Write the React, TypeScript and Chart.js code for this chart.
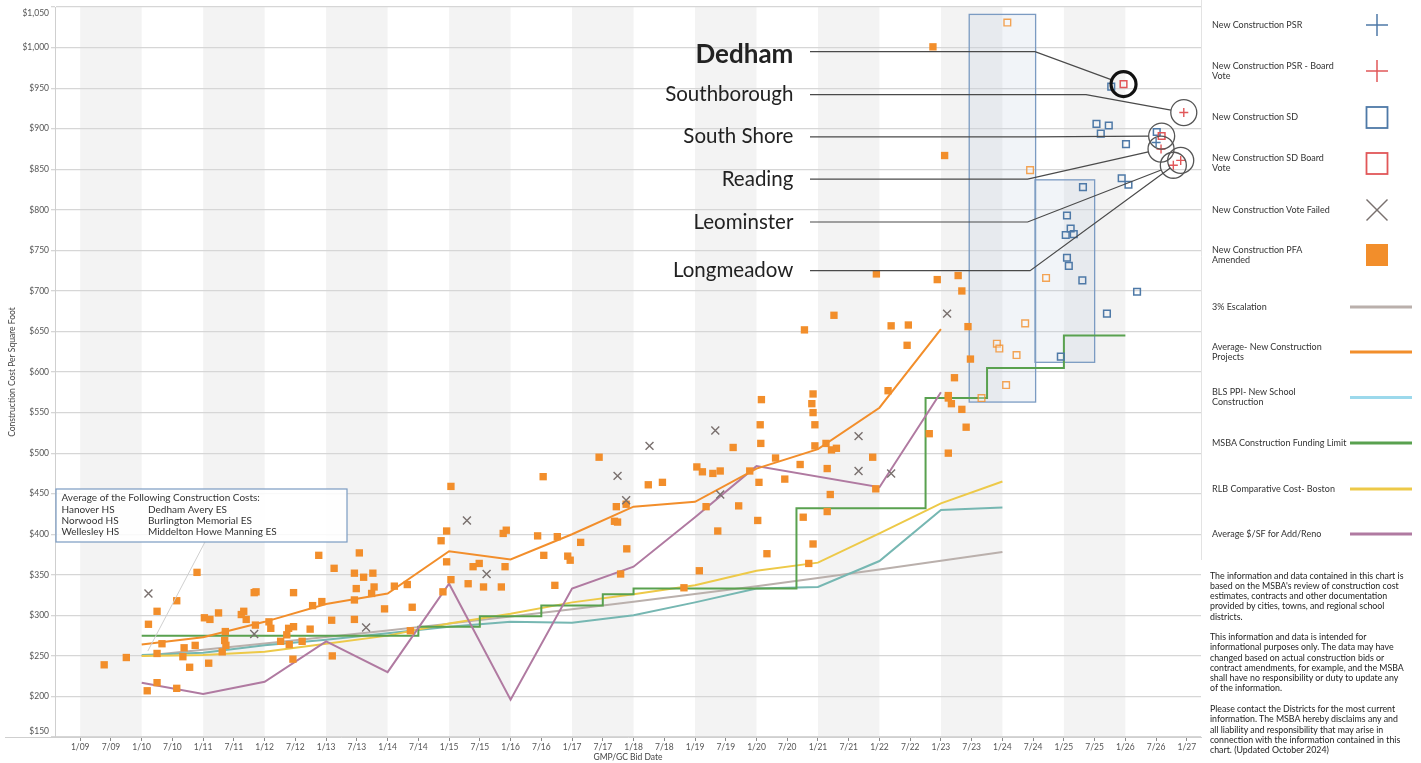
import React, { useEffect, useRef } from 'react';
import { Chart, registerables } from 'chart.js';

Chart.register(...registerables);

const W = 1421;
const H = 763;
const FONT = 'Lato, "Noto Sans", sans-serif';

const ORANGE = '#f28e2b';
const BLUE = '#4e79a7';
const RED = '#e15759';
const GRAY_X = '#79706e';
const GRAY_LINE = '#bab0ac';
const TEAL = '#76b7b2';
const TEAL_LEGEND = '#9cd9ec';
const GREEN = '#59a14f';
const YELLOW = '#edc948';
const PURPLE = '#b07aa1';

// ---------- axes ----------
const X_MIN = 2008.59;
const X_MAX = 2027.23;
const X_TICK_VALUES = [2009, 2009.5, 2010, 2010.5, 2011, 2011.5, 2012, 2012.5, 2013, 2013.5, 2014, 2014.5, 2015, 2015.5, 2016, 2016.5, 2017, 2017.5, 2018, 2018.5, 2019, 2019.5, 2020, 2020.5, 2021, 2021.5, 2022, 2022.5, 2023, 2023.5, 2024, 2024.5, 2025, 2025.5, 2026, 2026.5, 2027];
const X_TICK_LABELS = ['1/09', '7/09', '1/10', '7/10', '1/11', '7/11', '1/12', '7/12', '1/13', '7/13', '1/14', '7/14', '1/15', '7/15', '1/16', '7/16', '1/17', '7/17', '1/18', '7/18', '1/19', '7/19', '1/20', '7/20', '1/21', '7/21', '1/22', '7/22', '1/23', '7/23', '1/24', '7/24', '1/25', '7/25', '1/26', '7/26', '1/27'];
const Y_TICK_VALUES = [150, 200, 250, 300, 350, 400, 450, 500, 550, 600, 650, 700, 750, 800, 850, 900, 950, 1000, 1050];
const Y_TICK_LABELS = ['$150', '$200', '$250', '$300', '$350', '$400', '$450', '$500', '$550', '$600', '$650', '$700', '$750', '$800', '$850', '$900', '$950', '$1,000', '$1,050'];
const BAND_START_YEARS = [2009, 2011, 2013, 2015, 2017, 2019, 2021, 2023, 2025];

// ---------- scatter series ([date as decimal year, $/sf]) ----------
const PFA_AMENDED: [number, number][] = [
  [2009.39, 239], [2009.75, 248], [2010.11, 289], [2010.25, 305], [2010.57, 318], [2010.90, 353], [2010.33, 265], [2010.25, 253],
  [2010.25, 217], [2010.09, 207], [2010.57, 210], [2010.69, 260], [2010.67, 249], [2010.78, 236], [2010.87, 263], [2011.02, 297],
  [2011.11, 295], [2011.25, 303], [2011.09, 241], [2011.36, 280], [2011.35, 269], [2011.37, 263], [2011.31, 255], [2011.62, 301],
  [2011.66, 305], [2011.70, 295], [2011.83, 328], [2011.86, 329], [2011.85, 288], [2012.07, 292], [2012.10, 284], [2012.26, 268],
  [2012.36, 276], [2012.39, 284], [2012.47, 286], [2012.40, 264], [2012.46, 246], [2012.47, 328], [2012.61, 268], [2012.74, 283],
  [2012.88, 374], [2012.78, 312], [2012.93, 317], [2013.09, 294], [2013.10, 250], [2013.13, 358], [2013.46, 319], [2013.46, 352],
  [2013.54, 377], [2013.61, 347], [2013.76, 352], [2013.78, 335], [2013.74, 327], [2013.49, 333], [2013.46, 295], [2013.95, 308],
  [2014.11, 336], [2014.32, 338], [2014.40, 310], [2014.37, 281], [2014.87, 392], [2014.96, 404], [2015.03, 459], [2014.96, 366],
  [2015.03, 344], [2014.90, 329], [2015.31, 339], [2015.39, 360], [2015.49, 364], [2015.56, 335], [2015.85, 335], [2015.91, 360],
  [2015.88, 401], [2015.93, 405], [2016.44, 398], [2016.53, 471], [2016.54, 374], [2016.72, 337], [2016.76, 397], [2016.93, 373],
  [2016.97, 368], [2017.14, 390], [2017.44, 495], [2017.72, 434], [2017.69, 416], [2017.74, 415], [2017.89, 382], [2017.79, 351],
  [2017.88, 437], [2018.24, 461], [2018.47, 464], [2019.03, 483], [2019.12, 477], [2019.29, 475], [2019.41, 478], [2019.62, 507],
  [2020.07, 512], [2020.31, 494], [2019.18, 434], [2019.37, 404], [2019.71, 435], [2019.89, 478], [2020.04, 464], [2020.02, 417],
  [2020.17, 376], [2020.46, 468], [2019.07, 355], [2018.82, 334],
  [2021.95, 721], [2022.94, 714], [2023.28, 719], [2023.34, 700], [2021.26, 670], [2020.78, 652], [2022.19, 657], [2022.47, 658],
  [2022.45, 633], [2023.44, 656], [2023.48, 616], [2023.22, 593], [2022.14, 577], [2023.12, 571], [2023.12, 568], [2023.17, 561],
  [2023.34, 554], [2023.41, 532], [2022.81, 524], [2023.12, 500], [2020.08, 566], [2020.92, 573], [2020.90, 561], [2020.92, 550],
  [2020.95, 535], [2020.06, 535], [2020.95, 509], [2021.13, 512], [2021.22, 504], [2021.30, 506], [2020.71, 486], [2021.15, 481],
  [2021.89, 495], [2021.94, 456], [2021.20, 449], [2021.15, 428], [2020.76, 421], [2020.92, 388], [2020.85, 364],
  [2022.87, 1001], [2023.06, 867],
];
const PFA_OPEN: [number, number][] = [
  [2024.08, 1031], [2024.45, 849], [2024.71, 716], [2024.37, 660], [2023.91, 635], [2023.95, 629], [2024.23, 621], [2024.06, 584], [2023.66, 568],
];
const SD: [number, number][] = [
  [2025.77, 952], [2025.53, 906], [2025.73, 904], [2025.60, 894], [2026.01, 881], [2026.51, 896], [2025.94, 839], [2026.05, 831],
  [2025.31, 828], [2025.05, 793], [2025.11, 777], [2025.03, 769], [2025.16, 770], [2025.05, 741], [2025.08, 731], [2025.30, 713],
  [2026.19, 699], [2025.70, 672], [2024.95, 619],
];
const SD_BOARD: [number, number][] = [[2025.97, 955], [2026.59, 891]];
const PSR: [number, number][] = [[2026.50, 883]];
const PSR_BOARD: [number, number][] = [[2026.95, 920], [2026.58, 875], [2026.78, 855], [2026.90, 861]];
const VOTE_FAILED: [number, number][] = [
  [2010.11, 327], [2011.83, 277], [2013.65, 285], [2015.29, 417], [2015.61, 351], [2017.74, 472], [2017.88, 442], [2018.26, 509],
  [2019.33, 528], [2019.41, 449], [2021.66, 521], [2021.66, 478], [2022.19, 475], [2023.10, 672],
];

// ---------- line series ----------
const ESC_YEARS = [2010, 2011, 2012, 2013, 2014, 2015, 2016, 2017, 2018, 2019, 2020, 2021, 2022, 2023, 2024];
const ESC_VALUES = [250, 257.5, 265.2, 273.2, 281.4, 289.8, 298.5, 307.5, 316.7, 326.2, 336, 346.1, 356.5, 367.2, 378.2];
const AVG_YEARS = [2010, 2011, 2012, 2013, 2014, 2015, 2016, 2017, 2018, 2019, 2020, 2021, 2022, 2023];
const AVG_VALUES = [264, 273, 292, 314, 327, 379, 369, 400, 434, 440, 481, 505, 556, 653];
const BLS_YEARS = [2010, 2011, 2012, 2013, 2014, 2015, 2016, 2017, 2018, 2019, 2020, 2021, 2022, 2023, 2024];
const BLS_VALUES = [251, 254, 263, 270, 278, 286, 292, 291, 300, 316, 333, 335, 367, 430, 433];
const MSBA_YEARS = [2010, 2014.5, 2015.5, 2016.5, 2017.5, 2018.0, 2020.65, 2022.75, 2023.75, 2025.0, 2026.0];
const MSBA_VALUES = [275, 286, 299, 312, 326, 333, 432, 568, 605, 645, 645];
const RLB_YEARS = [2010, 2011, 2012, 2013, 2014, 2015, 2016, 2017, 2018, 2019, 2020, 2021, 2022, 2023, 2024];
const RLB_VALUES = [250, 251, 255, 265, 275, 290, 302, 316, 326, 337, 355, 365, 401, 438, 465];
const RENO_YEARS = [2010, 2011, 2012, 2013, 2014, 2015, 2016, 2017, 2018, 2019, 2020, 2022, 2023];
const RENO_VALUES = [217, 203, 218, 268, 230, 339, 196, 333, 360, 421, 484, 458, 575];

// ---------- highlight boxes ----------
const BOX_X0 = [2023.46, 2024.53];
const BOX_X1 = [2024.54, 2025.50];
const BOX_Y0 = [563, 612];
const BOX_Y1 = [1041, 837];

// ---------- callouts ----------
const CALLOUT_LABELS = ['Dedham', 'Southborough', 'South Shore', 'Reading', 'Leominster', 'Longmeadow'];
const CALLOUT_LINE_VALUES = [995, 942, 890, 838, 785, 725];
const CALLOUT_KNEE_YEARS = [2024.53, 2025.36, 2024.5, 2024.41, 2024.41, 2024.45];
const CALLOUT_TARGET_X = [2025.97, 2026.95, 2026.59, 2026.58, 2026.78, 2026.90];
const CALLOUT_TARGET_Y = [955, 920, 891, 875, 855, 861];
const CALLOUT_TEXT_RIGHT_YEAR = 2020.6;
const CALLOUT_LINE_START_YEAR = 2020.87;

const BOX_TITLE = 'Average of the Following Construction Costs:';
const BOX_COL1 = ['Hanover HS', 'Norwood HS', 'Wellesley HS'];
const BOX_COL2 = ['Dedham Avery ES', 'Burlington Memorial ES', 'Middelton Howe Manning ES'];

const DISCLAIMER = [
  'The information and data contained in this chart is',
  "based on the MSBA's review of construction cost",
  'estimates, contracts and other documentation',
  'provided by cities, towns, and regional school',
  'districts.',
  '',
  'This information and data is intended for',
  'informational purposes only. The data may have',
  'changed based on actual construction bids or',
  'contract amendments, for example, and the MSBA',
  'shall have no responsibility or duty to update any',
  'of the information.',
  '',
  'Please contact the Districts for the most current',
  'information. The MSBA hereby disclaims any and',
  'all liability and responsibility that may arise in',
  'connection with the information contained in this',
  'chart. (Updated October 2024)',
];

type LegendItem = { lines: string[]; y: number; icon: string; color: string };
const LEGEND_ITEMS: LegendItem[] = [
  { lines: ['New Construction PSR'], y: 25, icon: 'plus', color: BLUE },
  { lines: ['New Construction PSR - Board', 'Vote'], y: 71, icon: 'plus', color: RED },
  { lines: ['New Construction SD'], y: 117.5, icon: 'square', color: BLUE },
  { lines: ['New Construction SD Board', 'Vote'], y: 163.5, icon: 'square', color: RED },
  { lines: ['New Construction Vote Failed'], y: 210, icon: 'x', color: GRAY_X },
  { lines: ['New Construction PFA', 'Amended'], y: 255, icon: 'filled', color: ORANGE },
  { lines: ['3% Escalation'], y: 307, icon: 'line', color: GRAY_LINE },
  { lines: ['Average- New Construction', 'Projects'], y: 352, icon: 'line', color: ORANGE },
  { lines: ['BLS PPI- New School', 'Construction'], y: 397.5, icon: 'line', color: TEAL_LEGEND },
  { lines: ['MSBA Construction Funding Limit'], y: 443, icon: 'line', color: GREEN },
  { lines: ['RLB Comparative Cost- Boston'], y: 489, icon: 'line', color: YELLOW },
  { lines: ['Average $/SF for Add/Reno'], y: 534, icon: 'line', color: PURPLE },
];

const pts = (arr: [number, number][]) => arr.map(([x, y]) => ({ x, y }));
const zip = (xs: number[], ys: number[]) => xs.map((x, i) => ({ x, y: ys[i] }));

const decorPlugin = {
  id: 'decor',
  beforeDraw(chart: any) {
    const { ctx, chartArea: a, scales } = chart;
    const xs = scales.x;
    ctx.save();
    ctx.fillStyle = '#f3f3f3';
    BAND_START_YEARS.forEach((yr) => {
      const x0 = Math.max(a.left, xs.getPixelForValue(yr));
      const x1 = Math.min(a.right, xs.getPixelForValue(yr + 1));
      if (x1 > x0) ctx.fillRect(x0, a.top, x1 - x0, a.bottom - a.top);
    });
    ctx.restore();
  },
  beforeDatasetsDraw(chart: any) {
    const { ctx, scales, chartArea: a } = chart;
    const xs = scales.x;
    const ys = scales.y;
    ctx.save();
    // axis line extending left under the y labels
    ctx.strokeStyle = '#cfcfcf';
    ctx.lineWidth = 1;
    ctx.beginPath();
    ctx.moveTo(5, a.bottom + 0.5);
    ctx.lineTo(a.left, a.bottom + 0.5);
    ctx.stroke();
    // first/last y labels are pulled inside the axis
    ctx.fillStyle = '#555';
    ctx.font = `8.5px ${FONT}`;
    ctx.textAlign = 'right';
    ctx.textBaseline = 'middle';
    const lx = a.left - 6;
    ctx.fillText(Y_TICK_LABELS[0], lx, ys.getPixelForValue(Y_TICK_VALUES[0]) - 6);
    ctx.fillText(Y_TICK_LABELS[Y_TICK_LABELS.length - 1], lx, ys.getPixelForValue(Y_TICK_VALUES[Y_TICK_VALUES.length - 1]) + 6);
    for (let i = 0; i < BOX_X0.length; i++) {
      const x0 = xs.getPixelForValue(BOX_X0[i]);
      const x1 = xs.getPixelForValue(BOX_X1[i]);
      const y0 = ys.getPixelForValue(BOX_Y1[i]);
      const y1 = ys.getPixelForValue(BOX_Y0[i]);
      ctx.fillStyle = 'rgba(190,206,224,0.22)';
      ctx.fillRect(x0, y0, x1 - x0, y1 - y0);
      ctx.strokeStyle = '#7b9bc2';
      ctx.lineWidth = 1.3;
      ctx.strokeRect(x0, y0, x1 - x0, y1 - y0);
    }
    ctx.restore();
  },
  afterDatasetsDraw(chart: any) {
    const { ctx, scales } = chart;
    const xs = scales.x;
    const ys = scales.y;
    ctx.save();
    // text box + connector
    const bx = 56, by = 489, bw = 291, bh = 53;
    ctx.strokeStyle = '#cfcfcf';
    ctx.lineWidth = 1;
    ctx.beginPath();
    ctx.moveTo(205, by + bh);
    ctx.lineTo(xs.getPixelForValue(2010.1), ys.getPixelForValue(256));
    ctx.stroke();
    ctx.fillStyle = 'rgba(255,255,255,0.85)';
    ctx.fillRect(bx, by, bw, bh);
    ctx.strokeStyle = '#7b9bc2';
    ctx.lineWidth = 1.2;
    ctx.strokeRect(bx, by, bw, bh);
    ctx.fillStyle = '#333';
    ctx.textBaseline = 'middle';
    ctx.textAlign = 'left';
    ctx.font = `10px ${FONT}`;
    ctx.fillText(BOX_TITLE, 61.5, 498);
    BOX_COL1.forEach((t, i) => ctx.fillText(t, 61.5, 509.5 + i * 11.3));
    BOX_COL2.forEach((t, i) => ctx.fillText(t, 148, 509.5 + i * 11.3));

    // callouts
    const sx = xs.getPixelForValue(CALLOUT_LINE_START_YEAR);
    const tx = xs.getPixelForValue(CALLOUT_TEXT_RIGHT_YEAR);
    CALLOUT_LABELS.forEach((label, i) => {
      const ly = ys.getPixelForValue(CALLOUT_LINE_VALUES[i]);
      const kx = xs.getPixelForValue(CALLOUT_KNEE_YEARS[i]);
      const cx = xs.getPixelForValue(CALLOUT_TARGET_X[i]);
      const cy = ys.getPixelForValue(CALLOUT_TARGET_Y[i]);
      const r = i === 0 ? 12.5 : 13;
      const dx = cx - kx, dy = cy - ly;
      const d = Math.hypot(dx, dy) || 1;
      ctx.strokeStyle = '#4a4a4a';
      ctx.lineWidth = 1.2;
      ctx.beginPath();
      ctx.moveTo(sx, ly);
      ctx.lineTo(kx, ly);
      ctx.lineTo(cx - (dx / d) * r, cy - (dy / d) * r);
      ctx.stroke();
      ctx.beginPath();
      ctx.arc(cx, cy, r, 0, Math.PI * 2);
      ctx.strokeStyle = i === 0 ? '#111' : '#555';
      ctx.lineWidth = i === 0 ? 3.2 : 1.3;
      ctx.stroke();
      ctx.fillStyle = '#222';
      ctx.textAlign = 'right';
      ctx.textBaseline = 'middle';
      ctx.font = i === 0 ? `bold 26px ${FONT}` : `20.5px ${FONT}`;
      ctx.fillText(label, tx, ly + (i === 0 ? 2.5 : 0));
    });
    ctx.restore();
  },
};

function LegendPanel() {
  const iconX = 176;
  return (
    <>
      <svg style={{ position: 'absolute', left: 1201, top: 0 }} width={220} height={763}>
        <line x1={0.5} y1={0} x2={0.5} y2={560} stroke="#e3e3e3" strokeWidth={1} />
        {LEGEND_ITEMS.map((it, i) => {
          const y = it.y;
          if (it.icon === 'plus')
            return (
              <g key={i} stroke={it.color} strokeWidth={1.5}>
                <line x1={iconX - 11} y1={y} x2={iconX + 11} y2={y} />
                <line x1={iconX} y1={y - 11} x2={iconX} y2={y + 11} />
              </g>
            );
          if (it.icon === 'square')
            return <rect key={i} x={iconX - 10.5} y={y - 10.5} width={21} height={21} fill="none" stroke={it.color} strokeWidth={1.8} />;
          if (it.icon === 'x')
            return (
              <g key={i} stroke={it.color} strokeWidth={1.5}>
                <line x1={iconX - 10.5} y1={y - 10.5} x2={iconX + 10.5} y2={y + 10.5} />
                <line x1={iconX - 10.5} y1={y + 10.5} x2={iconX + 10.5} y2={y - 10.5} />
              </g>
            );
          if (it.icon === 'filled')
            return <rect key={i} x={iconX - 11} y={y - 11} width={22} height={22} fill={it.color} />;
          return <line key={i} x1={149} y1={y} x2={211} y2={y} stroke={it.color} strokeWidth={3} />;
        })}
      </svg>
      {LEGEND_ITEMS.map((it, i) => (
        <div
          key={'t' + i}
          style={{
            position: 'absolute',
            left: 1212,
            top: it.y - (it.lines.length * 10.3) / 2,
            fontFamily: FONT,
            fontSize: 9,
            lineHeight: '10.3px',
            color: '#333',
            whiteSpace: 'pre',
          }}
        >
          {it.lines.map((l, j) => (
            <div key={j}>{l}</div>
          ))}
        </div>
      ))}
      {DISCLAIMER.map((l, i) => (
        <div
          key={'d' + i}
          style={{
            position: 'absolute',
            left: 1210,
            top: 570.5 + i * 10.27,
            fontFamily: FONT,
            fontSize: 8.8,
            lineHeight: '10.27px',
            color: '#222',
            whiteSpace: 'pre',
          }}
        >
          {l}
        </div>
      ))}
    </>
  );
}

export default function App() {
  const ref = useRef<HTMLCanvasElement>(null);
  useEffect(() => {
    const canvas = ref.current;
    if (!canvas) return;
    const lineDs = (label: string, data: any[], color: string, extra: any = {}) => ({
      label,
      data,
      showLine: true,
      borderColor: color,
      backgroundColor: color,
      borderWidth: 2,
      pointRadius: 0,
      tension: 0,
      ...extra,
    });
    const lastY = Y_TICK_LABELS.length - 1;
    const chart = new Chart(canvas, {
      type: 'scatter',
      data: {
        datasets: [
          { label: 'New Construction PSR - Board Vote', data: pts(PSR_BOARD), pointStyle: 'cross', pointRadius: 4.5, borderColor: RED, borderWidth: 1.4 },
          { label: 'New Construction PSR', data: pts(PSR), pointStyle: 'cross', pointRadius: 4.5, borderColor: BLUE, borderWidth: 1.4 },
          { label: 'New Construction SD Board Vote', data: pts(SD_BOARD), pointStyle: 'rect', pointRadius: 4.7, borderColor: RED, backgroundColor: 'rgba(255,255,255,0)', borderWidth: 1.5 },
          { label: 'New Construction SD', data: pts(SD), pointStyle: 'rect', pointRadius: 4.7, borderColor: BLUE, backgroundColor: 'rgba(255,255,255,0)', borderWidth: 1.5 },
          { label: 'New Construction PFA (open)', data: pts(PFA_OPEN), pointStyle: 'rect', pointRadius: 4.7, borderColor: 'rgba(242,142,43,0.8)', backgroundColor: 'rgba(255,255,255,0.3)', borderWidth: 1.4 },
          { label: 'New Construction Vote Failed', data: pts(VOTE_FAILED), pointStyle: 'crossRot', pointRadius: 5.6, borderColor: GRAY_X, borderWidth: 1.4 },
          { label: 'New Construction PFA Amended', data: pts(PFA_AMENDED), pointStyle: 'rect', pointRadius: 5.2, borderColor: ORANGE, backgroundColor: ORANGE, borderWidth: 0 },
          lineDs('Average- New Construction Projects', zip(AVG_YEARS, AVG_VALUES), ORANGE),
          lineDs('Average $/SF for Add/Reno', zip(RENO_YEARS, RENO_VALUES), PURPLE),
          lineDs('MSBA Construction Funding Limit', zip(MSBA_YEARS, MSBA_VALUES), GREEN, { stepped: 'before' }),
          lineDs('RLB Comparative Cost- Boston', zip(RLB_YEARS, RLB_VALUES), YELLOW),
          lineDs('BLS PPI- New School Construction', zip(BLS_YEARS, BLS_VALUES), TEAL),
          lineDs('3% Escalation', zip(ESC_YEARS, ESC_VALUES), GRAY_LINE),
        ],
      },
      options: {
        responsive: false,
        maintainAspectRatio: false,
        devicePixelRatio: 1,
        animation: false,
        events: [],
        layout: { padding: { top: 6, right: 220, left: 0, bottom: 0 } },
        plugins: { legend: { display: false }, tooltip: { enabled: false } },
        scales: {
          x: {
            type: 'linear',
            min: X_MIN,
            max: X_MAX,
            afterBuildTicks: (axis: any) => {
              axis.ticks = X_TICK_VALUES.map((v) => ({ value: v }));
            },
            afterFit: (axis: any) => {
              axis.height = 26;
            },
            ticks: {
              autoSkip: false,
              maxRotation: 0,
              minRotation: 0,
              padding: 1,
              color: '#555',
              font: { family: FONT, size: 8.5 },
              callback: (_v: any, i: number) => X_TICK_LABELS[i],
            },
            grid: { drawOnChartArea: false, drawTicks: true, tickLength: 4, color: '#888', lineWidth: 1 },
            border: { color: '#cfcfcf', width: 1 },
            title: { display: true, text: 'GMP/GC Bid Date', color: '#444', font: { family: FONT, size: 8.5 }, padding: { top: 0, bottom: 1 } },
          },
          y: {
            type: 'linear',
            min: 150,
            max: 1050,
            afterBuildTicks: (axis: any) => {
              axis.ticks = Y_TICK_VALUES.map((v) => ({ value: v }));
            },
            afterFit: (axis: any) => {
              axis.width = 55;
            },
            ticks: {
              padding: 2,
              color: '#555',
              font: { family: FONT, size: 8.5 },
              callback: (_v: any, i: number) => (i === 0 || i === lastY ? '' : Y_TICK_LABELS[i]),
            },
            grid: { color: '#d6d6d6', lineWidth: 1.3, drawTicks: true, tickLength: 4 },
            border: { color: '#cfcfcf', width: 1 },
            title: { display: true, text: 'Construction Cost Per Square Foot', color: '#444', font: { family: FONT, size: 8.5 }, padding: { top: 7, bottom: 0 } },
          },
        },
      },
      plugins: [decorPlugin],
    } as any);
    return () => chart.destroy();
  }, []);
  return (
    <div style={{ position: 'absolute', left: 0, top: 0, width: W, height: H, background: '#fff', overflow: 'hidden' }}>
      <canvas ref={ref} width={W} height={H} style={{ position: 'absolute', left: 0, top: 0, width: W, height: H }} />
      <LegendPanel />
    </div>
  );
}
